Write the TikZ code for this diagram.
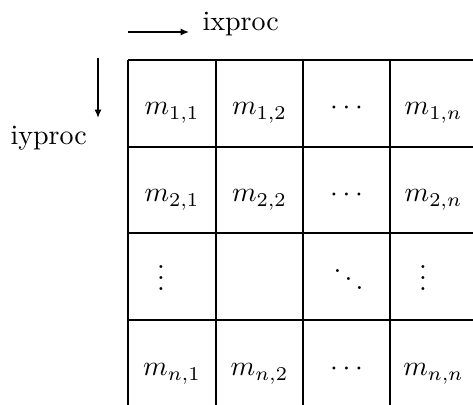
\documentclass[tikz,border=0pt]{standalone}
\usetikzlibrary{arrows.meta}
\tikzset{
  grid/.style={line width=0.75pt},
  arr/.style={line width=0.75pt,-{Latex[length=3pt,width=2.6pt]}},
  cell/.style={inner sep=0pt,anchor=base},
  lab/.style={inner sep=0pt,anchor=base west},
}
\begin{document}
\begin{tikzpicture}[x=0.357pt,y=-0.357pt]
\useasboundingbox (0,0) rectangle (473,405);
% grid
\foreach \xx in {128,216,303,390} \draw[grid] (\xx,60) -- (\xx,405);
\foreach \yy in {60,147,233,320} \draw[grid] (128,\yy) -- (473,\yy);
% arrows and labels
\coordinate (hx0) at (128,32);
\coordinate (hx1) at (189,32);
\draw[arr] (hx0) -- (hx1);
\node[lab] (ix) at (202,31) {ixproc};
\coordinate (vy0) at (98,58);
\coordinate (vy1) at (98,118);
\draw[arr] (vy0) -- (vy1);
\node[lab] (iy) at (10,145) {iyproc};
% entries
\node[cell] (m11) at (172,115) {$m_{1,1}$};
\node[cell] (m12) at (259.5,115) {$m_{1,2}$};
\node[cell] (c13) at (346.5,115) {$\cdots$};
\node[cell] (m1n) at (433.5,115) {$m_{1,n}$};
\node[cell] (m21) at (172,202) {$m_{2,1}$};
\node[cell] (m22) at (259.5,202) {$m_{2,2}$};
\node[cell] (c23) at (346.5,202) {$\cdots$};
\node[cell] (m2n) at (433.5,202) {$m_{2,n}$};
\node[cell] (v31) at (161,291) {$\vdots$};
\node[cell] (d33) at (348.5,292) {$\ddots$};
\node[cell] (v34) at (423,291) {$\vdots$};
\node[cell] (mn1) at (172,376) {$m_{n,1}$};
\node[cell] (mn2) at (259.5,376) {$m_{n,2}$};
\node[cell] (cn3) at (346.5,376) {$\cdots$};
\node[cell] (mnn) at (433.5,376) {$m_{n,n}$};
\end{tikzpicture}
\end{document}
